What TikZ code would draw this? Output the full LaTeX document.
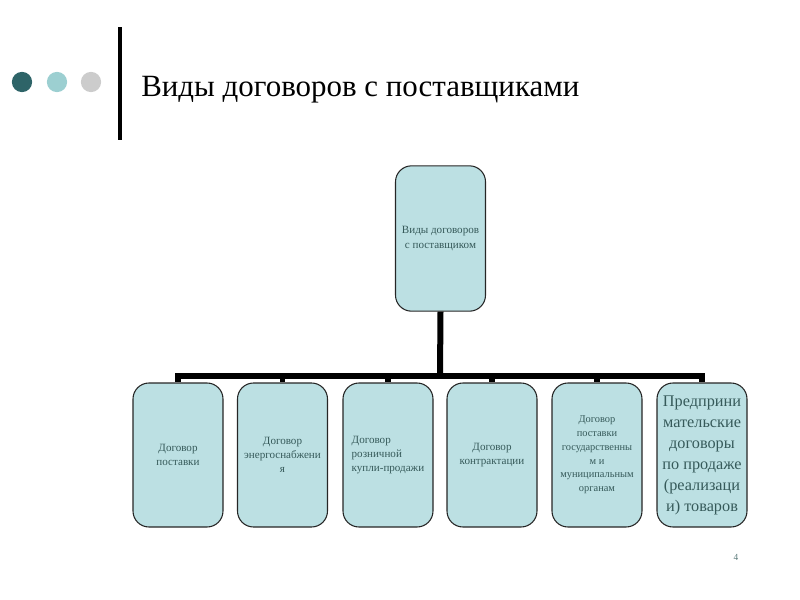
\documentclass[tikz,border=0pt]{standalone}
\usepackage{fontspec}
\setmainfont{Liberation Serif}
\definecolor{dotA}{HTML}{2E6468}
\definecolor{dotB}{HTML}{9CCFD1}
\definecolor{dotC}{HTML}{CCCCCC}
\definecolor{boxfill}{HTML}{BCE0E3}
\definecolor{boxtext}{HTML}{365A5A}
\definecolor{pagenum}{HTML}{5A7A7A}
\tikzset{
  orgbox/.style={draw=black!85, line width=0.8pt, fill=boxfill, rounded corners=12pt,
    minimum width=67.5pt, minimum height=108pt, inner sep=2pt, text=boxtext,
    font=\fontsize{8.3}{10.6}\selectfont, align=center},
  conn/.style={line width=4.5pt, black},
}
\begin{document}
\begin{tikzpicture}[x=0.75pt,y=-0.75pt]
\useasboundingbox (0,0) rectangle (800,600);
% decorative dots and bar
\fill[dotA] (22,82) circle[radius=7.6pt];
\fill[dotB] (57,82) circle[radius=7.6pt];
\fill[dotC] (91,82) circle[radius=7.6pt];
\draw[line width=2.4pt] (120,27) -- (120,140);
\node[anchor=base west, inner sep=0, font=\fontsize{23.2}{28}\selectfont] (title) at (141,96) {Виды договоров с поставщиками};
% top box
\node[orgbox, minimum height=109pt] (top) at (440.5,238.5) {Виды договоров\\с поставщиком};
% bottom boxes
\node[orgbox] (b1) at (178,455) {Договор\\поставки};
\node[orgbox] (b2) at (282.5,455) {Договор\\энергоснабжени\\я};
\node[orgbox, align=left] (b3) at (388,455) {Договор\\розничной\\купли-продажи};
\node[orgbox] (b4) at (492,455) {Договор\\контрактации};
\node[orgbox, font=\fontsize{7.8}{10.3}\selectfont] (b5) at (597,455) {Договор\\поставки\\государственны\\м и\\муниципальным\\органам};
\node[orgbox, font=\fontsize{12.2}{15.7}\selectfont] (b6) at (702,455) {\mbox{}\\[-6.7pt]Предприни\\мательские\\договоры\\по продаже\\(реализаци\\и) товаров};
% connectors
\coordinate (bar) at (440,376);
\draw[conn] (top.south) -- (bar);
\draw[conn, line cap=rect] (b1.north |- bar) -- (b6.north |- bar);
\foreach \b in {b1,b2,b3,b4,b5,b6}{
  \draw[line width=3.8pt] (\b.north |- bar) -- (\b.north);
}
\node[text=pagenum, font=\fontsize{7}{8}\selectfont, inner sep=0] (pg) at (736,557) {4};
\end{tikzpicture}
\end{document}
